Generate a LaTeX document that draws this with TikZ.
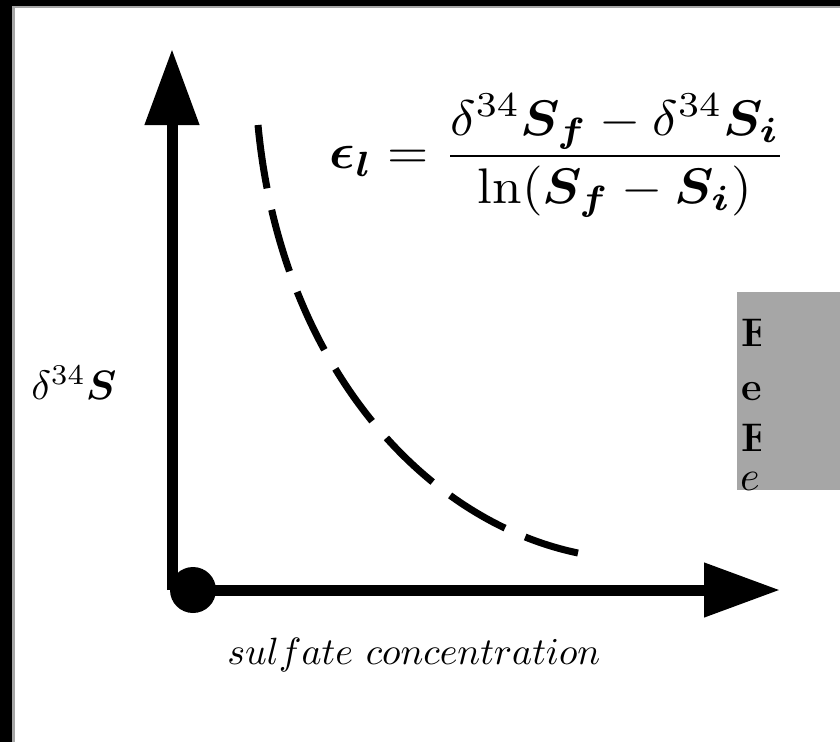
\documentclass[tikz,border=0pt]{standalone}
\usepackage{graphicx}
\usepackage{amsmath}
\usepackage{bm}
\usetikzlibrary{arrows.meta}
\definecolor{boxgray}{HTML}{A6A6A6}

\begin{document}
\begin{tikzpicture}[x=1pt, y=-1pt,
  axis/.style={line width=11pt, -{Triangle[width=52pt, length=76pt]}},
  curve/.style={line width=7pt, dash pattern=on 64pt off 22pt},
  lbl/.style={inner sep=0pt},
  note/.style={inner sep=0pt, anchor=base west, text height=27pt, text depth=0pt,
               font=\fontsize{40}{44}\selectfont\bfseries}
]
\useasboundingbox (0,0) rectangle (840,742);
\clip (0,0) rectangle (840,742);
\fill[white] (0,0) rectangle (840,742);
% frame
\fill[black] (0,0) rectangle (840,6);
\fill[black!35] (0,6) rectangle (840,8);
\fill[black] (0,0) rectangle (12,742);
\fill[black!35] (12,8) rectangle (15,742);

% grey box, cut at the edge
\fill[boxgray] (737,292) rectangle (850,490);
\begin{scope}
\clip (737,292) rectangle (760,490);
\node[note] (n1) at (741,346) {E};
\node[note] (n2) at (741,400) {e};
\node[note] (n3) at (741,451) {E};
\node[note, text height=18pt, font=\normalfont\normalsize] (n4) at (740,490) {\scalebox{4.2}{$e$}};
\end{scope}

% axes
\coordinate (origin) at (172,590);
\coordinate (ytip) at (172,49);
\coordinate (xtip) at (780,590);
\draw[axis] (origin) -- (ytip);
\draw[axis] (origin) -- (xtip);
\node[circle, fill=black, minimum size=46pt, inner sep=0pt] (dot) at (193,590) {};

% dashed curve
\coordinate (c0) at (258,125);
\coordinate (c1) at (578,553);
\draw[curve] (c0) .. controls (280,360) and (420,520) .. (c1);

% labels
\node[lbl] (eq) at (558,156)
  {\scalebox{5.3}[5]{$\displaystyle \bm{\epsilon_l} = \frac{\delta^{34}\bm{S_f} - \delta^{34}\bm{S_i}}{\ln(\bm{S_f} - \bm{S_i})}$}};
\node[lbl] (ylab) at (74,383) {\scalebox{4.1}{$\delta^{34}\bm{S}$}};
\node[lbl] (xlab) at (414,655) {\scalebox{3.8}{$sulfate\ concentration$}};
\end{tikzpicture}
\end{document}
